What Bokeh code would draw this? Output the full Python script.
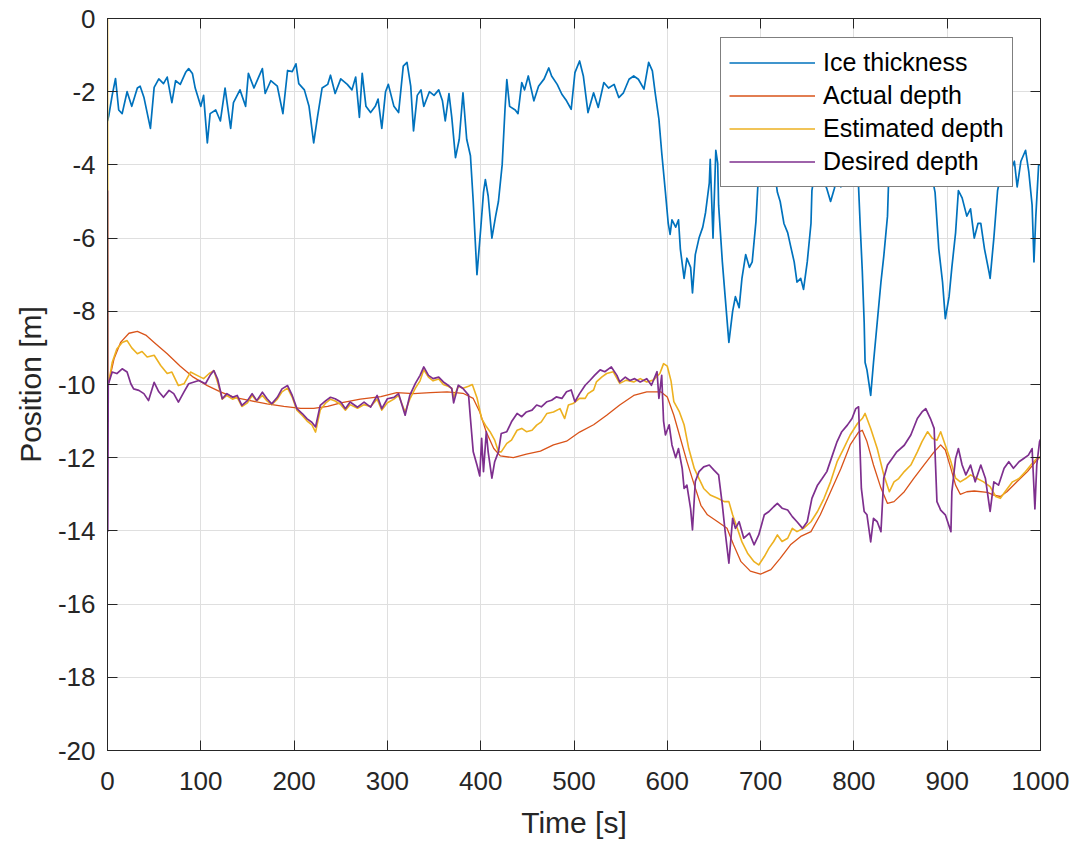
from bokeh.plotting import figure
from bokeh.models import LinearAxis, FixedTicker, Legend, LegendItem, Range1d, CustomJSTickFormatter
from bokeh.embed import file_html
from bokeh.resources import INLINE

# ---------------- data ----------------
ICE = [(0, -2.8), (1.4, -2.65), (5, -2.1), (8.6, -1.64), (12, -2.5), (15.7, -2.6), (21, -2.0), (26, -2.4),
       (32, -1.9), (35, -1.85), (39, -2.15), (46, -3.0), (50, -1.88), (55, -1.65), (60, -1.78), (64, -1.6),
       (69, -2.3), (73, -1.7), (78, -1.8), (84, -1.46), (87, -1.37), (91, -1.5), (94, -1.9), (100, -2.4),
       (103, -2.1), (107, -3.4), (110, -2.6), (116, -2.5), (121, -2.8), (126, -1.9), (132, -3.0), (135, -2.3),
       (142, -1.95), (148, -2.4), (151, -1.5), (157, -1.9), (162, -1.6), (166, -1.37), (169, -2.05), (175, -1.7),
       (182, -1.85), (188, -2.6), (193, -1.42), (198, -1.45), (202, -1.24), (205, -1.78), (211, -1.95),
       (216, -2.4), (221, -3.4), (225, -2.7), (230, -1.9), (236, -1.8), (239, -1.55), (244, -2.05), (250, -1.65),
       (257, -1.8), (262, -1.95), (266, -1.6), (270, -2.7), (273, -1.5), (277, -2.4), (282, -2.57), (287, -2.4),
       (290, -2.2), (294, -3.0), (298, -2.0), (301, -1.8), (307, -2.4), (312, -2.57), (317, -1.3), (321, -1.2),
       (325, -1.85), (328, -3.07), (332, -2.1), (336, -1.95), (339, -2.4), (345, -2.0), (350, -2.1),
       (355, -1.95), (359, -2.25), (362, -2.8), (366, -2.05), (369, -2.7), (373, -3.8), (377, -3.3),
       (381, -2.03), (385, -3.3), (389, -3.75), (392, -5.0), (396, -7.0), (400, -5.75), (403, -4.75),
       (405, -4.4), (408, -4.85), (412, -6.0), (416, -5.4), (419, -5.0), (423, -4.0), (426, -2.5), (428, -1.67),
       (431, -2.4), (437, -2.5), (440, -2.6), (444, -1.75), (447, -1.95), (451, -1.57), (457, -2.25),
       (462, -1.85), (468, -1.65), (473, -1.35), (476, -1.57), (482, -1.8), (487, -2.07), (492, -2.25),
       (497, -2.48), (501, -1.48), (506, -1.16), (510, -1.57), (515, -2.57), (521, -2.03), (526, -2.43),
       (532, -1.75), (537, -1.9), (543, -1.8), (548, -2.16), (553, -2.03), (559, -1.66), (564, -1.57),
       (569, -1.66), (575, -1.93), (580, -1.2), (584, -1.43), (587, -2.03), (591, -2.75), (594, -3.66),
       (598, -4.75), (601, -5.6), (603, -5.9), (605, -5.5), (609, -5.7), (612, -5.5), (614, -6.3), (618, -7.1),
       (621, -6.55), (625, -6.8), (627, -7.5), (630, -6.45), (634, -6.0), (638, -5.7), (641, -5.3), (645, -4.5),
       (646, -3.85), (649, -6.0), (652, -3.6), (654, -3.95), (655, -5.1), (659, -6.65), (662, -7.6),
       (666, -8.85), (670, -8.0), (673, -7.6), (677, -7.9), (680, -7.1), (684, -6.45), (688, -6.8),
       (691, -6.65), (695, -5.55), (697, -4.6), (699, -3.8), (703, -3.4), (708, -3.9), (712, -3.5), (715, -4.2),
       (718, -4.75), (721, -5.0), (725, -5.6), (729, -5.85), (732, -6.2), (736, -6.65), (739, -7.2),
       (743, -7.1), (746, -7.4), (750, -6.65), (754, -5.6), (755, -4.7), (760, -3.9), (765, -4.3), (771, -4.65),
       (775, -5.0), (779, -4.65), (783, -4.2), (786, -4.6), (790, -3.8), (795, -4.1), (800, -3.5), (805, -4.6),
       (807, -5.8), (809, -6.9), (811, -8.3), (812, -9.4), (814, -9.6), (818, -10.3), (821, -9.4), (825, -8.3),
       (829, -7.2), (832, -6.5), (836, -5.4), (837, -4.6), (842, -3.8), (848, -4.2), (853, -3.6), (858, -4.0),
       (864, -3.9), (870, -4.3), (876, -3.7), (882, -4.1), (887, -4.75), (891, -6.3), (895, -7.2), (898, -8.2),
       (902, -7.6), (905, -6.8), (909, -5.85), (912, -4.7), (916, -4.9), (921, -5.4), (925, -5.2), (929, -6.0),
       (933, -5.6), (936, -5.6), (940, -6.3), (945, -6.95), (946, -7.1), (950, -6.0), (954, -4.7), (960, -4.0),
       (966, -4.3), (972, -3.9), (975, -4.6), (979, -3.9), (984, -3.6), (987.5, -4.2), (991, -5.1),
       (993, -6.65), (995, -5.4), (998, -4.0), (1000, -4.0)]

ACTUAL = [(0, -10.0), (1.4, -9.94), (7, -9.3), (14, -8.85), (23, -8.6), (32, -8.55), (41, -8.65), (50, -8.85),
          (64, -9.16), (78, -9.5), (92, -9.8), (107, -10.03), (121, -10.2), (136, -10.35), (153, -10.44),
          (171, -10.53), (189, -10.6), (207, -10.65), (221, -10.65), (236, -10.6), (250, -10.5), (271, -10.4),
          (293, -10.33), (310, -10.22), (328, -10.25), (346, -10.22), (364, -10.2), (381, -10.24),
          (392, -10.38), (399, -10.75), (406, -11.3), (414, -11.75), (421, -11.95), (435, -12.0), (449, -11.9),
          (464, -11.82), (478, -11.65), (492, -11.55), (506, -11.3), (521, -11.1), (535, -10.84), (549, -10.56),
          (564, -10.3), (578, -10.2), (593, -10.2), (600, -10.34), (607, -10.84), (614, -11.47), (621, -12.1),
          (629, -12.75), (636, -13.3), (643, -13.56), (654, -13.75), (664, -13.93), (671, -14.38),
          (679, -14.84), (689, -15.1), (700, -15.18), (711, -15.06), (721, -14.75), (732, -14.38),
          (743, -14.15), (754, -14.02), (764, -13.56), (775, -12.93), (786, -12.3), (796, -11.65), (805, -11.3),
          (809, -11.25), (814, -11.56), (821, -12.2), (829, -12.83), (836, -13.25), (843, -13.2), (854, -12.93),
          (864, -12.57), (875, -12.2), (886, -11.84), (893, -11.65), (898, -11.79), (904, -12.3), (909, -12.75),
          (914, -13.0), (921, -12.93), (929, -12.91), (943, -12.95), (950, -13.02), (957, -13.06),
          (964, -12.93), (975, -12.65), (986, -12.38), (995, -12.1), (1000, -11.97)]

ESTIMATED = [(0, 0.0), (0.5, -10.0), (1.4, -9.94), (5, -9.4), (10, -9.03), (15.7, -8.85), (21, -8.8), (26, -9.0),
             (32, -9.16), (37, -9.1), (42.5, -9.25), (50, -9.2), (57, -9.48), (64, -9.7), (69, -9.66),
             (76, -10.03), (82, -9.98), (89, -9.66), (96, -9.75), (103, -9.84), (109, -9.7), (114, -9.62),
             (118, -9.94), (123, -10.4), (128, -10.3), (134, -10.4), (139, -10.35), (144, -10.6), (150, -10.5),
             (155, -10.3), (160, -10.45), (166, -10.3), (171, -10.45), (176, -10.55), (182, -10.4), (187, -10.2),
             (193, -10.1), (198, -10.35), (203, -10.7), (209, -10.85), (214, -11.0), (219, -11.1), (223, -11.3),
             (228, -10.7), (234, -10.5), (239, -10.4), (244, -10.45), (250, -10.55), (255, -10.7), (260, -10.55),
             (268, -10.65), (275, -10.55), (282, -10.6), (289, -10.4), (294, -10.7), (300, -10.5), (307, -10.4),
             (312, -10.3), (319, -10.75), (324, -10.4), (330, -10.1), (335, -9.9), (339, -9.6), (344, -9.8),
             (349, -9.9), (355, -9.85), (360, -10.0), (365, -10.05), (369, -10.1), (371, -10.35), (376, -10.05),
             (381, -10.1), (387, -10.05), (391, -10.0), (396, -10.36), (401, -10.93), (406, -11.15),
             (410, -11.29), (415, -11.52), (419, -11.84), (422, -11.84), (428, -11.61), (433, -11.52),
             (439, -11.25), (444, -11.2), (449, -11.29), (455, -11.25), (460, -11.11), (465, -11.02),
             (471, -10.79), (478, -10.75), (485, -10.66), (490, -10.93), (494, -10.56), (499, -10.52),
             (506, -10.38), (512, -10.38), (515, -10.25), (521, -10.15), (524, -9.93), (530, -9.79), (535, -9.7),
             (542, -9.65), (549, -9.97), (556, -9.88), (564, -9.93), (571, -9.84), (578, -9.93), (585, -9.88),
             (592, -9.7), (596, -9.43), (600, -9.5), (604, -9.9), (607, -10.47), (613, -10.75), (618, -11.1),
             (623, -11.75), (629, -12.3), (634, -12.57), (639, -12.84), (646, -13.02), (654, -13.11),
             (661, -13.2), (666, -13.2), (670, -13.56), (675, -13.93), (680, -14.3), (686, -14.61), (693, -14.84),
             (698, -14.93), (704, -14.7), (709, -14.47), (714, -14.29), (718, -14.11), (723, -14.29), (729, -14.2),
             (734, -13.93), (739, -14.02), (746, -13.93), (754, -13.75), (761, -13.47), (768, -13.11),
             (775, -12.66), (782, -12.11), (789, -11.75), (796, -11.38), (804, -11.06), (809, -10.93),
             (812, -10.79), (818, -11.2), (825, -11.75), (832, -12.47), (838, -12.93), (843, -12.66),
             (848, -12.57), (854, -12.38), (861, -12.2), (868, -11.84), (873, -11.56), (879, -11.29),
             (884, -11.47), (889, -11.52), (893, -11.29), (898, -11.66), (904, -12.11), (909, -12.56),
             (914, -12.66), (920, -12.57), (925, -12.47), (932, -12.57), (939, -12.66), (946, -12.79),
             (952, -13.06), (957, -13.11), (962, -12.93), (970, -12.66), (977, -12.57), (984, -12.38),
             (991, -12.16), (996, -12.02), (1000, -11.97)]

DESIRED = [(0, -4.7), (0.3, -14.0), (0.8, -10.0), (5, -9.66), (10, -9.7), (15.7, -9.57), (21, -9.66), (25, -9.98),
           (28, -10.12), (33.6, -10.16), (39, -10.25), (44, -10.44), (50, -9.94), (55, -10.2), (60, -10.35),
           (66, -10.16), (71, -10.25), (76, -10.48), (82, -10.2), (87, -9.98), (92, -9.94), (98, -9.89),
           (105, -9.98), (110, -9.75), (114, -9.62), (118, -9.85), (123, -10.39), (128, -10.25), (134, -10.35),
           (139, -10.3), (144, -10.57), (150, -10.44), (155, -10.25), (160, -10.44), (166, -10.21),
           (171, -10.39), (176, -10.53), (182, -10.35), (187, -10.12), (193, -10.03), (198, -10.3),
           (203, -10.66), (209, -10.8), (214, -10.94), (219, -11.03), (223, -11.16), (228, -10.57),
           (234, -10.44), (239, -10.35), (244, -10.39), (250, -10.48), (255, -10.66), (260, -10.48),
           (268, -10.62), (275, -10.48), (282, -10.62), (289, -10.3), (294, -10.66), (300, -10.39),
           (307, -10.35), (312, -10.25), (319, -10.84), (324, -10.3), (330, -9.97), (335, -9.75), (339, -9.52),
           (344, -9.75), (349, -9.84), (355, -9.8), (360, -9.93), (365, -10.02), (369, -10.11), (371, -10.5),
           (376, -10.02), (381, -10.11), (387, -10.29), (389, -10.93), (392, -11.84), (396, -12.2), (399, -12.5),
           (401, -11.47), (403, -12.38), (406, -11.29), (408, -11.84), (412, -12.56), (415, -12.11),
           (419, -11.84), (422, -11.34), (428, -11.29), (433, -11.02), (439, -10.79), (444, -10.88),
           (449, -10.75), (455, -10.7), (460, -10.56), (465, -10.61), (471, -10.47), (476, -10.43),
           (481, -10.34), (487, -10.38), (492, -10.2), (497, -10.15), (501, -10.47), (506, -10.25),
           (512, -10.02), (517, -9.89), (522, -9.75), (528, -9.6), (533, -9.65), (540, -9.52), (546, -9.75),
           (549, -9.93), (555, -9.8), (560, -9.89), (565, -9.84), (571, -9.93), (578, -9.84), (583, -10.02),
           (589, -9.65), (591, -10.38), (594, -9.75), (596, -11.0), (598, -11.38), (602, -11.1), (605, -11.65),
           (609, -12.0), (612, -11.75), (616, -12.3), (618, -12.84), (621, -12.75), (625, -13.4), (627, -13.97),
           (630, -12.65), (634, -12.38), (639, -12.25), (645, -12.2), (650, -12.34), (655, -12.47),
           (659, -13.29), (662, -14.02), (666, -14.88), (670, -13.66), (673, -13.93), (677, -13.75),
           (682, -14.2), (688, -14.06), (693, -14.38), (698, -14.11), (704, -13.56), (709, -13.47),
           (714, -13.34), (718, -13.25), (723, -13.38), (729, -13.43), (734, -13.61), (739, -13.75),
           (745, -13.93), (750, -13.75), (755, -13.11), (761, -12.75), (766, -12.57), (771, -12.38),
           (777, -11.93), (782, -11.56), (787, -11.29), (793, -11.11), (798, -10.93), (802, -10.66),
           (805, -10.61), (808, -12.84), (811, -13.47), (814, -13.56), (818, -14.3), (821, -13.66),
           (825, -13.75), (829, -14.02), (832, -12.56), (836, -12.2), (841, -12.02), (846, -11.84),
           (854, -11.66), (861, -11.38), (868, -10.93), (873, -10.75), (877, -10.66), (882, -10.93),
           (886, -11.2), (889, -13.2), (893, -13.43), (898, -13.56), (904, -14.02), (905, -12.93), (909, -12.02),
           (912, -11.75), (916, -12.2), (920, -12.47), (925, -12.2), (930, -12.66), (936, -12.2), (941, -12.57),
           (946, -13.47), (950, -12.66), (955, -12.75), (961, -12.29), (966, -12.11), (971, -12.29),
           (977, -12.11), (982, -12.02), (987, -11.93), (991, -11.75), (994, -13.4), (996, -12.2),
           (999, -11.56), (1000, -11.5)]

SERIES_NAMES = ["Ice thickness", "Actual depth", "Estimated depth", "Desired depth"]
SERIES_COLORS = ["#0072BD", "#D95319", "#EDB120", "#7E2F8E"]
SERIES_WIDTHS = [1.7, 1.3, 1.6, 1.7]
X_TICKS = list(range(0, 1001, 100))
Y_TICKS = list(range(-20, 1, 2))

# ---------------- figure ----------------
FONT = "Liberation Sans"
INK = "#262626"

p = figure(frame_width=933, frame_height=732, output_backend="svg", toolbar_location=None,
           x_range=Range1d(0, 1000), y_range=Range1d(-20, 0),
           min_border_left=107, min_border_right=38, min_border_top=18, min_border_bottom=93,
           background_fill_color="white", border_fill_color="white")
p.outline_line_color = INK
p.outline_line_width = 1

p.xaxis.axis_label = "Time [s]"
p.yaxis.axis_label = "Position [m]"

for ax in (p.xaxis[0], p.yaxis[0]):
    ax.major_label_text_font = FONT
    ax.major_label_text_font_size = "26px"
    ax.major_label_text_color = INK
    ax.axis_label_text_font = FONT
    ax.axis_label_text_font_size = "30px"
    ax.axis_label_text_font_style = "normal"
    ax.axis_label_text_color = INK
    ax.axis_line_color = INK
    ax.major_tick_line_color = INK
    ax.major_tick_in = 10
    ax.major_tick_out = 0
    ax.minor_tick_line_color = None

p.xaxis.ticker = FixedTicker(ticks=X_TICKS)
p.yaxis.ticker = FixedTicker(ticks=Y_TICKS)
p.yaxis.major_label_overrides = {t: str(t) for t in Y_TICKS}
p.xaxis.major_label_overrides = {t: str(t) for t in X_TICKS}
p.xaxis.major_label_standoff = 21
p.xaxis.axis_label_standoff = 13
p.yaxis.major_label_standoff = 12
p.yaxis.axis_label_standoff = 8

# mirrored axes (ticks only, empty labels) on top and right
blank = CustomJSTickFormatter(code="return '';")
top = LinearAxis(ticker=FixedTicker(ticks=X_TICKS), formatter=blank, major_label_text_font_size="8px",
                 major_tick_in=10, major_tick_out=0, minor_tick_line_color=None,
                 axis_line_color=INK, major_tick_line_color=INK, major_label_standoff=0)
right = LinearAxis(ticker=FixedTicker(ticks=Y_TICKS), formatter=blank, major_label_text_font_size="8px",
                   major_tick_in=10, major_tick_out=0, minor_tick_line_color=None,
                   axis_line_color=INK, major_tick_line_color=INK, major_label_standoff=0)
p.add_layout(top, "above")
p.add_layout(right, "right")

p.xgrid.ticker = FixedTicker(ticks=X_TICKS)
p.ygrid.ticker = FixedTicker(ticks=Y_TICKS)
p.grid.grid_line_color = "#dfdfdf"
p.grid.grid_line_width = 1

renderers = []
for data, color, w in zip([ICE, ACTUAL, ESTIMATED, DESIRED], SERIES_COLORS, SERIES_WIDTHS):
    xs = [d[0] for d in data]
    ys = [d[1] for d in data]
    r = p.line(xs, ys, line_color=color, line_width=w, line_join="round")
    renderers.append(r)

legend = Legend(items=[LegendItem(label=n, renderers=[r]) for n, r in zip(SERIES_NAMES, renderers)],
                location=(613, 563))
legend.label_text_font = FONT
legend.label_text_font_size = "25px"
legend.label_text_color = "black"
legend.border_line_color = "black"
legend.border_line_width = 1
legend.background_fill_color = "white"
legend.background_fill_alpha = 1
legend.padding = 8
legend.spacing = 0
legend.margin = 0
legend.label_height = 33
legend.glyph_height = 33
legend.glyph_width = 86
legend.label_standoff = 8
p.add_layout(legend, "center")

open("out.html", "w").write(file_html(p, INLINE))
